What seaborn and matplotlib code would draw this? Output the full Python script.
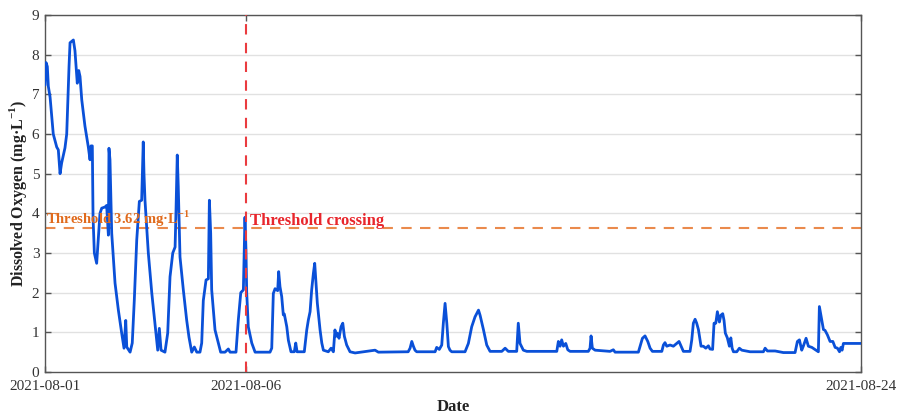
import numpy as np
import pandas as pd
import matplotlib
matplotlib.use("Agg")
import matplotlib.pyplot as plt
import matplotlib.dates as mdates
import seaborn as sns

# ---- data (hours since 2021-08-01 00:00, dissolved oxygen mg/L) ----
hours = [0.0, 0.7, 1.6, 2.3, 3.5, 5.7, 8.1, 9.2, 10.4, 11.5, 13.8, 15.0, 16.6, 17.3, 19.6,
         20.7, 22.3, 23.3, 24.2, 25.4, 27.6, 29.9, 31.1, 31.8, 32.7, 33.2, 34.1, 35.7, 36.8,
         38.0, 39.2, 41.5, 42.6, 43.8, 44.2, 44.9, 46.1, 48.4, 50.7, 53.0, 54.6, 55.8, 56.5,
         58.8, 60.3, 61.7, 63.4, 65.2, 66.8, 67.9, 68.4, 69.1, 71.4, 73.8, 76.0, 77.9, 79.0,
         80.2, 82.9, 84.8, 86.4, 88.3, 89.9, 90.5, 91.4, 92.1, 93.3, 95.6, 97.9, 99.5, 101.4,
         103.2, 104.9, 107.1, 108.3, 109.4, 111.3, 112.9, 113.6, 114.5, 115.2, 117.5, 119.8,
         121.4, 124.4, 126.7, 127.9, 132.0, 133.6, 135.3, 137.1, 138.2, 138.9, 139.4, 140.5,
         142.9, 145.2, 155.5, 156.7, 157.8, 159.0, 160.8, 161.5, 162.4, 163.6, 164.7, 165.4,
         167.1, 168.2, 170.0, 172.3, 173.3, 174.2, 179.2, 180.9, 182.0, 183.2, 184.3, 185.5,
         186.4, 187.3, 188.2, 190.1, 191.3, 192.4, 195.8, 197.7, 199.3, 200.4, 201.1, 202.0,
         203.2, 204.6, 205.8, 206.9, 208.5, 210.8, 214.3, 228.1, 230.4, 251.0, 252.3, 253.5,
         254.6, 255.7, 256.9, 269.6, 270.7, 272.5, 274.2, 275.3, 276.5, 277.7, 278.8, 279.9,
         281.1, 290.3, 292.6, 294.9, 297.2, 299.6, 300.7, 303.0, 305.3, 307.6, 315.7, 318.0,
         320.2, 326.0, 327.1, 328.3, 330.6, 333.0, 353.7, 354.8, 356.0, 357.1, 358.3, 359.9,
         361.3, 362.9, 375.5, 376.7, 377.4, 378.3, 380.2, 390.5, 392.8, 394.0, 410.1, 411.3,
         412.9, 414.7, 416.6, 418.2, 419.8, 426.3, 427.4, 428.5, 429.7, 432.0, 434.3, 436.6,
         438.2, 439.6, 441.2, 445.8, 447.0, 448.1, 449.3, 450.4, 451.6, 453.4, 455.0, 456.7,
         458.5, 459.6, 461.4, 462.4, 463.6, 464.7, 466.1, 467.1, 468.4, 469.3, 470.2, 471.6,
         473.0, 474.0, 474.9, 475.8, 478.1, 479.9, 481.6, 487.3, 496.5, 497.7, 499.3, 504.6,
         510.3, 518.4, 520.0, 521.4, 523.0, 524.1, 526.0, 527.6, 530.0, 532.9, 534.5, 535.2,
         536.9, 538.0, 539.1, 540.7, 542.6, 544.5, 546.1, 547.7, 549.1, 550.0, 550.9, 551.8,
         564.5]
do_mg = [7.23, 7.8, 7.7, 7.2, 6.93, 6.0, 5.67, 5.6, 5.0, 5.27, 5.65, 6.0, 7.7, 8.3, 8.37,
         8.1, 7.28, 7.6, 7.45, 6.86, 6.2, 5.68, 5.35, 5.7, 5.7, 3.9, 3.0, 2.74, 3.33,
         4.0, 4.13, 4.16, 4.2, 3.45, 5.64, 5.35, 3.5, 2.24, 1.56, 0.98, 0.6, 1.3, 0.63,
         0.5, 0.73, 1.8, 3.33, 4.3, 4.33, 5.8, 5.0, 4.33, 3.0, 1.99, 1.23, 0.55, 1.1,
         0.55, 0.5, 0.98, 2.4, 3.0, 3.15, 4.0, 5.47, 4.67, 2.9, 2.07, 1.31, 0.88, 0.5,
         0.63, 0.5, 0.5, 0.73, 1.8, 2.32, 2.35, 4.33, 3.5, 2.07, 1.06, 0.73,
         0.5, 0.5, 0.58, 0.5, 0.5, 1.31, 2.0, 2.07, 3.9, 3.07, 2.0, 1.14,
         0.73, 0.5, 0.5, 0.6, 1.98, 2.1, 2.05, 2.53, 2.15, 1.9, 1.44, 1.46,
         1.14, 0.8, 0.51, 0.51, 0.73, 0.51, 0.51, 1.06, 1.31, 1.52, 2.07, 2.49,
         2.74, 2.24, 1.74, 1.06, 0.73, 0.55, 0.51, 0.6, 0.51, 1.06, 0.9, 0.98,
         0.85, 1.14, 1.23, 0.9, 0.68, 0.51, 0.48, 0.55, 0.5, 0.51, 0.6, 0.77,
         0.65, 0.55, 0.51, 0.51, 0.62, 0.57, 0.68, 1.23, 1.73, 1.23, 0.64, 0.55,
         0.51, 0.51, 0.72, 1.14, 1.39, 1.56, 1.43, 1.07, 0.68, 0.52, 0.52, 0.6,
         0.52, 0.52, 1.23, 0.72, 0.55, 0.52, 0.52, 0.77, 0.65, 0.81, 0.65, 0.72,
         0.56, 0.52, 0.52, 0.6, 0.91, 0.6, 0.55, 0.52, 0.56, 0.5, 0.5, 0.65,
         0.85, 0.91, 0.77, 0.6, 0.52, 0.52, 0.68, 0.74, 0.65, 0.68, 0.65, 0.72,
         0.77, 0.65, 0.52, 0.52, 0.81, 1.23, 1.33, 1.23, 1.07, 0.65, 0.65, 0.6,
         0.66, 0.58, 0.57, 1.23, 1.23, 1.52, 1.26, 1.43, 1.47, 1.3, 0.98, 0.86,
         0.65, 0.86, 0.6, 0.51, 0.51, 0.6, 0.55, 0.51, 0.51, 0.6, 0.53, 0.53,
         0.49, 0.49, 0.77, 0.81, 0.55, 0.65, 0.85, 0.65, 0.62, 0.55, 0.51, 1.65,
         1.3, 1.07, 1.05, 0.94, 0.77, 0.77, 0.62, 0.6, 0.51, 0.62, 0.55, 0.72,
         0.72]

start_time = "2021-08-01 00:00"
crossing_time = "2021-08-06 19:00"
end_time = "2021-08-24 12:00"
threshold = 3.62
y_ticks = list(range(0, 10))

# ---- build frame ----
t0 = pd.Timestamp(start_time)
df = pd.DataFrame({"Date": t0 + pd.to_timedelta(hours, unit="h"), "DO": do_mg})

sns.set_theme(style="white")
plt.rcParams["font.family"] = ["Liberation Serif", "DejaVu Serif"]
plt.rcParams["mathtext.fontset"] = "custom"
plt.rcParams["mathtext.rm"] = "Liberation Serif"
plt.rcParams["mathtext.bf"] = "Liberation Serif:bold"

fig = plt.figure(figsize=(9.02, 4.2), dpi=100)
ax = fig.add_axes([0.0499, 0.1143, 0.9047, 0.85])

for yv in y_ticks[1:]:
    ax.axhline(yv, color="#e1e1e1", lw=1.0, zorder=0)

sns.lineplot(data=df, x="Date", y="DO", ax=ax, color="#0a50d8", lw=2.0,
             estimator=None, sort=False, zorder=3)

ax.axhline(threshold, color="#ea8a4c", lw=1.5, ls=(0, (5, 4)), zorder=2)
ax.axvline(pd.Timestamp(crossing_time), color="#ea3b3f", lw=1.5, ls=(0, (5, 4)), zorder=4)

ax.text(t0 + pd.Timedelta(hours=1), 3.6, "Threshold 3.62 mg·L$^{\\mathbf{-1}}$",
        color="#e06a1c", fontsize=10.5, fontweight="bold", va="bottom", ha="left", zorder=5)
ax.text(pd.Timestamp(crossing_time) + pd.Timedelta(hours=3), 3.6, "Threshold crossing",
        color="#e8262c", fontsize=12, fontweight="bold", va="bottom", ha="left", zorder=5)

ax.set_xlim(pd.Timestamp(start_time), pd.Timestamp(end_time))
ax.set_ylim(0, 9)
ax.set_yticks(y_ticks)
ax.set_xticks([pd.Timestamp(start_time), pd.Timestamp(crossing_time), pd.Timestamp(end_time)])
ax.xaxis.set_major_formatter(mdates.DateFormatter("%Y-%m-%d"))

ax.tick_params(axis="both", direction="in", length=4, width=1, colors="#555555",
               labelcolor="#333333", labelsize=11, left=True, right=True, bottom=True, top=True)
ax.tick_params(axis="x", pad=6)
ax.tick_params(axis="y", pad=4)
for s in ax.spines.values():
    s.set_color("#555555")
    s.set_linewidth(1.0)
    s.set_visible(True)

ax.set_xlabel("Date", fontsize=12, fontweight="bold", color="#222222", labelpad=4)
ax.set_ylabel("Dissolved Oxygen (mg·L$^{\\mathbf{-1}}$)", fontsize=11.5, fontweight="bold",
              color="#222222", labelpad=2)

fig.savefig("out.png", dpi=100)
